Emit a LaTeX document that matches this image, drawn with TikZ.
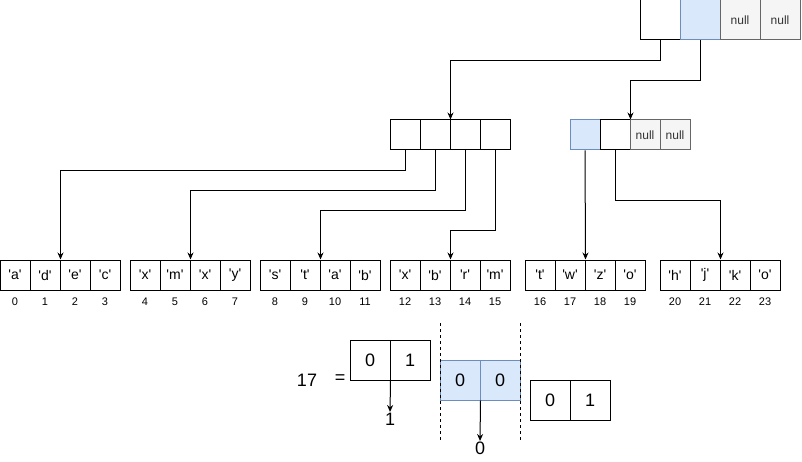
\documentclass[tikz,border=0pt]{standalone}
\usepackage{fontspec}
\setmainfont{Liberation Sans}
\usetikzlibrary{arrows.meta}
\definecolor{bluefill}{HTML}{DAE8FC}
\definecolor{bluedraw}{HTML}{6C8EBF}
\definecolor{grayfill}{HTML}{F5F5F5}
\definecolor{graydraw}{HTML}{666666}
\definecolor{nulltext}{HTML}{333333}
\newcommand{\chr}[1]{\textquotesingle#1\textquotesingle}
\begin{document}
\begin{tikzpicture}[x=1pt,y=-1pt,
  cellbase/.style={draw=black,line width=1pt,inner sep=0pt,fill=white},
  bigcell/.style={cellbase,minimum width=40pt,minimum height=40pt,font=\fontsize{18}{20}\selectfont},
  smallcell/.style={cellbase,minimum width=30pt,minimum height=30pt,font=\fontsize{14}{16}\selectfont},
  bluecell/.style={fill=bluefill,draw=bluedraw},
  nullcell/.style={fill=grayfill,draw=graydraw,text=nulltext,font=\fontsize{12}{14}\selectfont},
  idx/.style={inner sep=0pt,font=\fontsize{11}{13}\selectfont},
  num/.style={inner sep=0pt,font=\fontsize{18}{20}\selectfont},
  link/.style={draw=black,line width=1pt,-{Stealth[length=7pt,width=6pt]}},
  divider/.style={draw=black,line width=1pt,dash pattern=on 3pt off 3pt}
]
\useasboundingbox (0,0) rectangle (802,462);

% root node
\node[bigcell] (t0) at (660,20) {};
\node[bigcell,bluecell] (t1) at (700,20) {};
\node[bigcell,nullcell] (t2) at (740,20) {null};
\node[bigcell,nullcell] (t3) at (780,20) {null};

% second level, left
\foreach \i in {0,...,3}
  \node[smallcell] (m\i) at ({405+30*\i},135) {};

% second level, right
\node[smallcell,bluecell] (r0) at (585,135) {};
\node[smallcell] (r1) at (615,135) {};
\node[smallcell,nullcell] (r2) at (645,135) {null};
\node[smallcell,nullcell] (r3) at (675,135) {null};

% leaf arrays
\foreach \k/\xo/\a/\b/\c/\d in {0/0/a/d/e/c, 1/130/x/m/x/y, 2/260/s/t/a/b,
                                3/390/x/b/r/m, 4/525/t/w/z/o, 5/660/h/j/k/o} {
  \foreach \j/\ch in {0/\a,1/\b,2/\c,3/\d} {
    \pgfmathtruncatemacro{\n}{4*\k+\j}
    \node[smallcell] (b\n) at ({\xo+15+30*\j},275) {\chr{\ch}};
    \node[idx] (idx\n) at ({\xo+15+30*\j},302) {\n};
  }
}

% pointers from the root
\draw[link] (t0.south) -- ++(0,20) -| (m1.north east);
\draw[link] (t1.south) -- ++(0,40) -| (r1.north east);

% pointers to the leaves
\draw[link] (m0.south) -- ++(0,20) -| (b1.north east);
\draw[link] (m1.south) -- ++(0,40) -| (b5.north east);
\draw[link] (m2.south) -- ++(0,60) -| (b9.north east);
\draw[link] (m3.south) -- ++(0,80) -| (b13.north east);
\draw[link] (r0.south) -- (b17.north east);
\draw[link] (r1.south) -- ++(0,50) -| (b21.north east);

% splitting the index 17
\node[num] (seventeen) at (307,380) {17};
\node[num] (eq) at (340,379) {=};
\node[bigcell] (k0) at (370,360) {0};
\node[bigcell] (k1) at (410,360) {1};
\node[bigcell,bluecell] (u0) at (460,380) {0};
\node[bigcell,bluecell] (u1) at (500,380) {0};
\node[bigcell] (w0) at (550,400) {0};
\node[bigcell] (w1) at (590,400) {1};

\node[num,anchor=north] (one) at (390,413) {1};
\node[num,anchor=north] (zero) at (480,442) {0};
\draw[link,shorten >=1pt] (k0.south east) -- (one.north);
\draw[link,shorten >=1pt] (u0.south east) -- (zero.north);

\coordinate (dl1) at (440,323);
\coordinate (dl2) at (440,440);
\coordinate (dr1) at (520,323);
\coordinate (dr2) at (520,440);
\draw[divider] (dl1) -- (dl2);
\draw[divider] (dr1) -- (dr2);
\end{tikzpicture}
\end{document}
